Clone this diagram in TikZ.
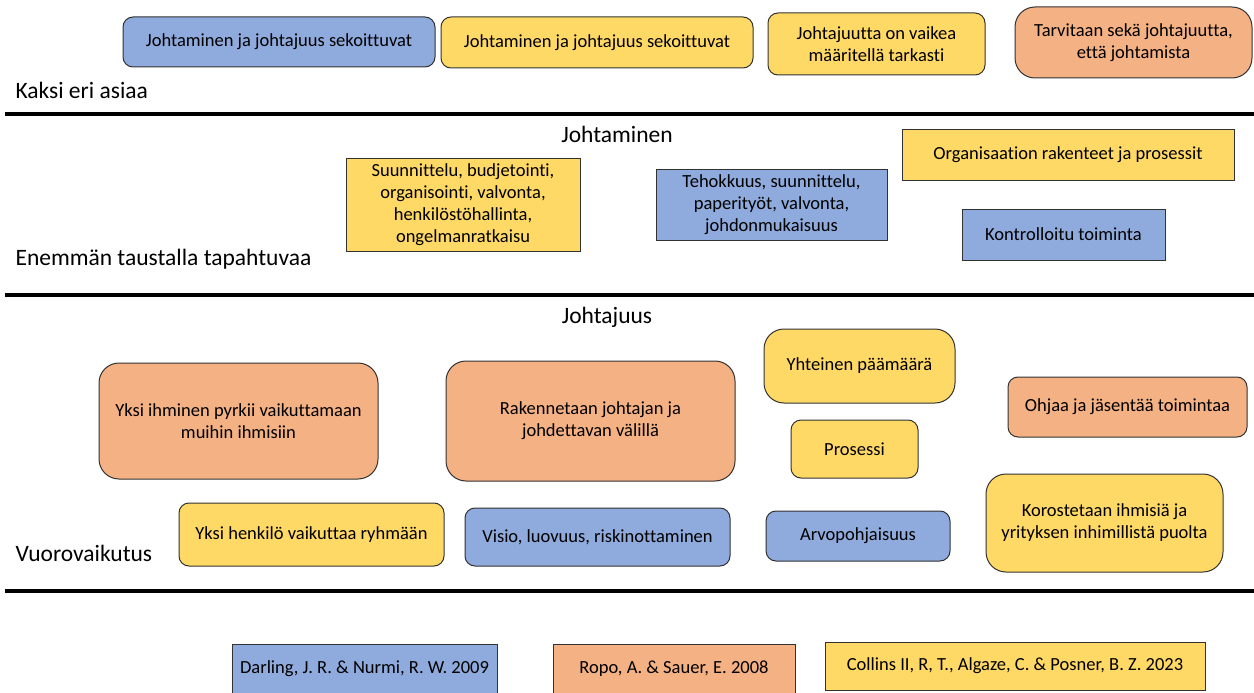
\documentclass[tikz,border=0pt]{standalone}
\usepackage{fontspec}
\setmainfont{Carlito}[Ligatures=NoCommon]
\usepackage{xcolor}
\usepackage{tikz}
\definecolor{boxblue}{RGB}{143, 170, 220}
\definecolor{boxyellow}{RGB}{255, 217, 102}
\definecolor{boxorange}{RGB}{244, 177, 131}
\definecolor{boxline}{RGB}{50, 50, 50}

\tikzset{
  card/.style={draw=boxline, line width=1pt, align=center, inner sep=0pt,
    font=\fontsize{18.5}{22}\selectfont},
  rcard/.style={card, rounded corners=10pt},
  bigcard/.style={card, rounded corners=20pt},
  rowlabel/.style={anchor=west, font=\fontsize{23.5}{28}\selectfont},
  heading/.style={font=\fontsize{23.5}{28}\selectfont},
  divider/.style={line width=3.5pt}
}

\begin{document}
\begin{tikzpicture}[x=1pt, y=-1pt]
\useasboundingbox (0,0) rectangle (1254,693);

% Kaksi eri asiaa
\node[rcard, fill=boxblue, minimum width=312, minimum height=50] (mix1) at (279,42) {Johtaminen ja johtajuus sekoittuvat};
\node[rcard, fill=boxyellow, minimum width=312, minimum height=51] (mix2) at (597,42.5) {Johtaminen ja johtajuus sekoittuvat};
\node[rcard, fill=boxyellow, minimum width=217, minimum height=62] (hard) at (876.5,44) {Johtajuutta on vaikea\\määritellä tarkasti};
\node[bigcard, fill=boxorange, minimum width=237, minimum height=71] (both) at (1133.5,42.5) {Tarvitaan sekä johtajuutta,\\että johtamista};
\node[rowlabel] (lab1) at (12,90) {Kaksi eri asiaa};
\draw[divider] (5,114) -- (1254,114);

% Johtaminen
\node[heading] (jm) at (617,134) {Johtaminen};
\node[card, fill=boxyellow, minimum width=234, minimum height=93] (plan) at (463,204.5) {Suunnittelu, budjetointi,\\organisointi, valvonta,\\henkilöstöhallinta,\\ongelmanratkaisu};
\node[card, fill=boxblue, minimum width=231, minimum height=71] (eff) at (771.5,204.5) {Tehokkuus, suunnittelu,\\paperityöt, valvonta,\\johdonmukaisuus};
\node[card, fill=boxyellow, minimum width=332, minimum height=51] (org) at (1068,154.5) {Organisaation rakenteet ja prosessit};
\node[card, fill=boxblue, minimum width=203, minimum height=51] (ctrl) at (1063.5,234.5) {Kontrolloitu toiminta};
\node[rowlabel] (lab2) at (12,259) {Enemmän taustalla tapahtuvaa};
\draw[divider] (5,295) -- (1254,295);

% Johtajuus
\node[heading] (jj) at (607,317) {Johtajuus};
\node[bigcard, fill=boxorange, minimum width=279, minimum height=116] (infl) at (238.5,421) {Yksi ihminen pyrkii vaikuttamaan\\muihin ihmisiin};
\node[bigcard, fill=boxorange, minimum width=289, minimum height=120] (rel) at (590.5,421) {Rakennetaan johtajan ja\\johdettavan välillä};
\node[bigcard, fill=boxyellow, minimum width=191, minimum height=74] (goal) at (859.5,366) {Yhteinen päämäärä};
\node[rcard, fill=boxyellow, minimum width=127, minimum height=58] (proc) at (854.5,449) {Prosessi};
\node[rcard, fill=boxorange, minimum width=239, minimum height=60] (guide) at (1127.5,407) {Ohjaa ja jäsentää toimintaa};
\node[rcard, fill=boxyellow, minimum width=265, minimum height=63] (group) at (311.5,534.5) {Yksi henkilö vaikuttaa ryhmään};
\node[rcard, fill=boxblue, minimum width=265, minimum height=58] (vis) at (597.5,537) {Visio, luovuus, riskinottaminen};
\node[rcard, fill=boxblue, minimum width=184, minimum height=50] (val) at (858,536) {Arvopohjaisuus};
\node[bigcard, fill=boxyellow, minimum width=237, minimum height=98] (ppl) at (1104.5,523) {Korostetaan ihmisiä ja\\yrityksen inhimillistä puolta};
\node[rowlabel] (lab3) at (12,553) {Vuorovaikutus};
\draw[divider] (5,591) -- (1254,591);

% Lähteet
\node[card, fill=boxblue, minimum width=265, minimum height=50] (src1) at (364.5,669) {Darling, J. R. \& Nurmi, R. W. 2009};
\node[card, fill=boxorange, minimum width=242, minimum height=50] (src2) at (674,669) {Ropo, A. \& Sauer, E. 2008};
\node[card, fill=boxyellow, minimum width=380, minimum height=48] (src3) at (1015,666) {Collins II, R, T., Algaze, C. \& Posner, B. Z. 2023};
\end{tikzpicture}
\end{document}
